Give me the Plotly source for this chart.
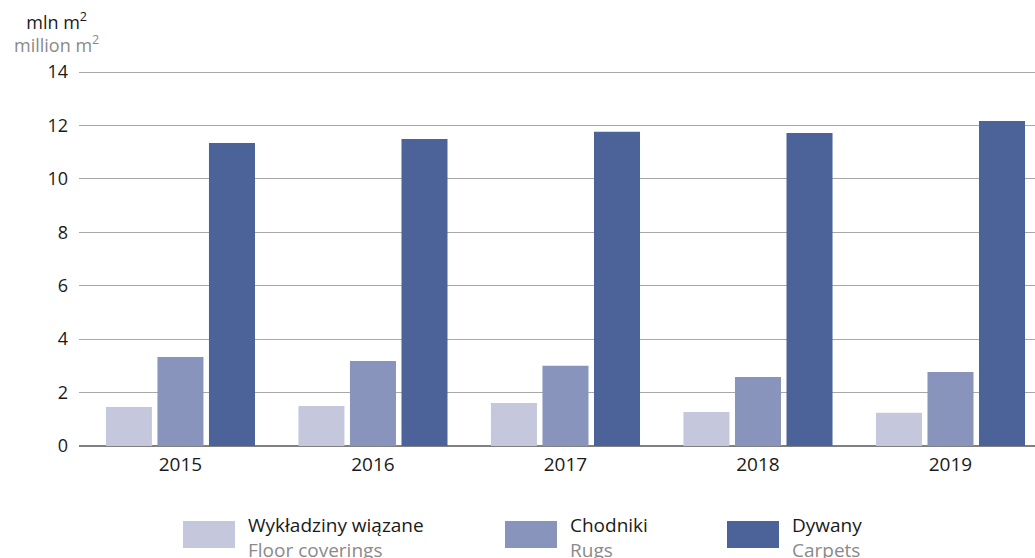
import plotly.graph_objects as go

# Data
years = ['2015', '2016', '2017', '2018', '2019']
floor_coverings = [1.46, 1.50, 1.61, 1.27, 1.24]
rugs = [3.33, 3.18, 3.00, 2.58, 2.77]
carpets = [11.34, 11.49, 11.76, 11.72, 12.17]

series_pl = ['Wykładziny wiązane', 'Chodniki', 'Dywany']
series_en = ['Floor coverings', 'Rugs', 'Carpets']
colors = ['#c5c8dd', '#8994bc', '#4b6399']

y_ticks = [0, 2, 4, 6, 8, 10, 12, 14]

FONT = 'Open Sans'
GREY = '#8a8a8a'
W, H = 1035, 558
L, R, T, B = 79, 0, 67, 112
Y_TOP = 14 + 5 * 14 / 374  # a little headroom so the 14 gridline is drawn

fig = go.Figure()
for name, vals, col in zip(series_pl, [floor_coverings, rugs, carpets], colors):
    fig.add_trace(go.Bar(
        x=years,
        y=vals,
        name=name,
        marker_color=col,
        marker_line_width=0,
        hoverinfo='x+y+name',
    ))

# pixel -> paper helpers for the hand-made legend
pw = W - L - R
ph = H - T - B


def px_x(x):
    return (x - L) / pw


def px_y(y):
    return (H - B - y) / ph


shapes = []
annotations = []
swatch_x = [183, 505, 727]
for i, sx in enumerate(swatch_x):
    shapes.append(dict(
        type='rect', xref='paper', yref='paper',
        x0=px_x(sx), x1=px_x(sx + 52), y0=px_y(548), y1=px_y(521),
        fillcolor=colors[i], line_width=0,
    ))
    annotations.append(dict(
        xref='paper', yref='paper', x=px_x(sx + 63), y=px_y(510),
        text=f"{series_pl[i]}<br><span style='color:{GREY}'>{series_en[i]}</span>",
        showarrow=False, xanchor='left', yanchor='top', align='left',
        font=dict(family=FONT, size=19, color='#1a1a1a'),
    ))

# unit labels above the y axis
annotations.append(dict(
    xref='paper', yref='paper', x=px_x(56), y=px_y(6),
    text=f"mln m<sup>2</sup><br><span style='color:{GREY}'>million m<sup>2</sup></span>",
    showarrow=False, xanchor='center', yanchor='top', align='center',
    font=dict(family=FONT, size=18, color='#1a1a1a'),
))

fig.update_layout(
    width=W,
    height=H,
    margin=dict(l=L, r=R, t=T, b=B),
    paper_bgcolor='white',
    plot_bgcolor='white',
    barmode='group',
    bargap=0.197,
    bargroupgap=0.107,
    showlegend=False,
    font=dict(family=FONT, size=18, color='#1a1a1a'),
    xaxis=dict(
        type='category',
        range=[-0.527, 4.439],
        showgrid=False,
        showline=False,
        ticks='',
        ticklabelstandoff=5,
        tickfont=dict(family=FONT, size=19, color='#1a1a1a'),
        fixedrange=True,
    ),
    yaxis=dict(
        range=[0, Y_TOP],
        tickvals=y_ticks,
        showgrid=True,
        gridcolor='#a8a8a8',
        gridwidth=1.3,
        zeroline=True,
        zerolinecolor='#808080',
        zerolinewidth=1.5,
        showline=False,
        ticks='',
        ticklabelstandoff=10,
        tickfont=dict(family=FONT, size=18, color='#1a1a1a'),
        fixedrange=True,
    ),
    shapes=shapes,
    annotations=annotations,
)

# drop the default page margin so the figure sits at the window's corner
fig.write_html('out.html', config={'displayModeBar': False},
               post_script="document.body.style.margin='0';")
